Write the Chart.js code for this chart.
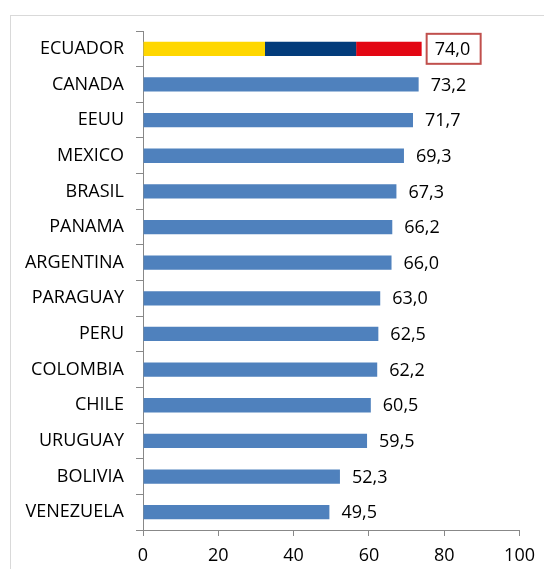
<!DOCTYPE html>
<html>
<head>
<meta charset="utf-8">
<script src="https://cdn.jsdelivr.net/npm/chart.js@4.4.1/dist/chart.umd.min.js"></script>
<style>
  html, body { margin: 0; padding: 0; background: #fff; }
  #wrap { position: relative; width: 544px; height: 569px; overflow: hidden; }
  #frame { position: absolute; left: 10px; top: 15px; width: 700px; height: 700px; border: 1px solid #d9d9d9; box-sizing: border-box; }
  #c { position: absolute; left: 0; top: 0; }
</style>
</head>
<body>
<div id="wrap">
  <div id="frame"></div>
  <canvas id="c" width="544" height="569"></canvas>
</div>
<script>
// ---------- Data ----------
const categories = ['ECUADOR','CANADA','EEUU','MEXICO','BRASIL','PANAMA','ARGENTINA','PARAGUAY','PERU','COLOMBIA','CHILE','URUGUAY','BOLIVIA','VENEZUELA'];
const values = [74.0, 73.2, 71.7, 69.3, 67.3, 66.2, 66.0, 63.0, 62.5, 62.2, 60.5, 59.5, 52.3, 49.5];
// Ecuador bar drawn in flag colours: yellow / blue / red pieces
const ecuadorYellow = [32.4, null, null, null, null, null, null, null, null, null, null, null, null, null];
const ecuadorBlue   = [24.2, null, null, null, null, null, null, null, null, null, null, null, null, null];
const ecuadorRed    = [17.4, null, null, null, null, null, null, null, null, null, null, null, null, null];
const otherValues = values.map((v, i) => i === 0 ? null : v);
const xTicks = [0, 20, 40, 60, 80, 100];

const FONT = "'Open Sans', sans-serif";
const SIZE = 18;
const fmt = v => v.toFixed(1).replace('.', ',');

// ---------- value labels ----------
const valueLabels = {
  id: 'valueLabels',
  afterDatasetsDraw(chart) {
    const ctx = chart.ctx, xs = chart.scales.x, ys = chart.scales.y;
    ctx.save();
    ctx.font = SIZE + 'px ' + FONT;
    ctx.fillStyle = '#000';
    ctx.textBaseline = 'middle';
    ctx.textAlign = 'left';
    values.forEach((v, i) => {
      const x = xs.getPixelForValue(v);
      const y = ys.getPixelForValue(i);
      if (i === 0) {
        const bx = x + 5, bw = 54, bh = 30;
        ctx.strokeStyle = '#C0504D';
        ctx.lineWidth = 2;
        ctx.strokeRect(bx, y - bh / 2, bw, bh);
        ctx.fillText(fmt(v), bx + 8, y + 1);
      } else {
        ctx.fillText(fmt(v), x + 12, y + 1);
      }
    });
    ctx.restore();
  }
};

const common = { barPercentage: 0.4, categoryPercentage: 1, borderWidth: 0 };

new Chart(document.getElementById('c'), {
  type: 'bar',
  data: {
    labels: categories,
    datasets: [
      { ...common, label: 'am', data: ecuadorYellow, backgroundColor: '#FFD700' },
      { ...common, label: 'az', data: ecuadorBlue, backgroundColor: '#033C7B' },
      { ...common, label: 'ro', data: ecuadorRed, backgroundColor: '#E30613' },
      { ...common, label: 'val', data: otherValues, backgroundColor: '#4F81BD' }
    ]
  },
  options: {
    indexAxis: 'y',
    responsive: false,
    animation: false,
    devicePixelRatio: 1,
    layout: { padding: { left: 0, right: 23, top: 31, bottom: 0 } },
    plugins: { legend: { display: false }, tooltip: { enabled: false } },
    scales: {
      x: {
        stacked: true,
        min: 0, max: 100,
        afterBuildTicks: s => { s.ticks = xTicks.map(v => ({ value: v })); },
        afterFit: s => { s.height = 39; },
        grid: { display: true, drawOnChartArea: false, tickLength: 6, color: '#888' },
        border: { display: true, color: '#888' },
        ticks: { autoSkip: false, maxRotation: 0, padding: 9, color: '#000', font: { family: FONT, size: SIZE } }
      },
      y: {
        stacked: true,
        afterFit: s => { s.width = 143; },
        grid: { display: true, drawOnChartArea: false, offset: true, tickLength: 7, color: '#888' },
        border: { display: true, color: '#888' },
        ticks: { padding: 12, color: '#000', font: { family: FONT, size: SIZE } }
      }
    }
  },
  plugins: [valueLabels]
});
</script>
</body>
</html>
